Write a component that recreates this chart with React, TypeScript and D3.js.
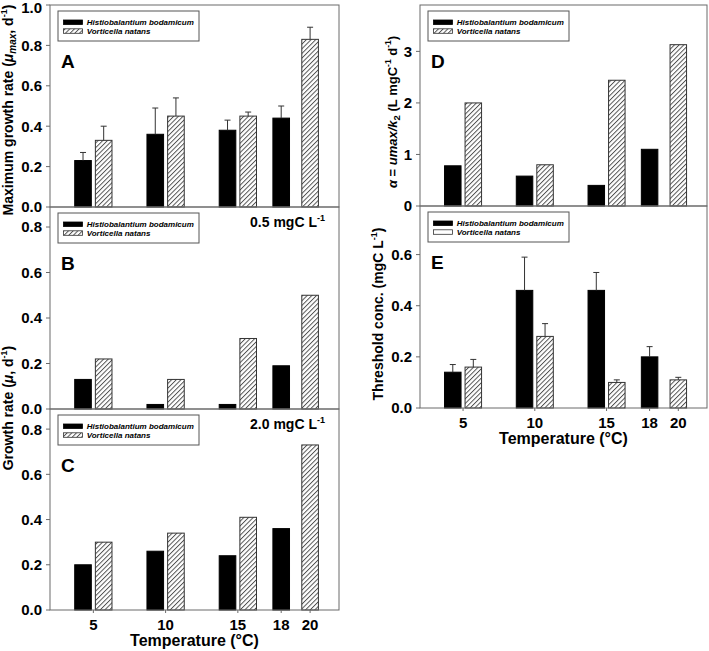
import React from "react";
import * as d3 from "d3";

const bodTemps = [5, 10, 15, 18];
const natTemps = [5, 10, 15, 20];
const xTicks = [5, 10, 15, 18, 20];
const seriesNames = ["Histiobalantium bodamicum", "Vorticella natans"];

const aBod = [0.23, 0.36, 0.38, 0.44];
const aBodSE = [0.04, 0.13, 0.05, 0.06];
const aNat = [0.33, 0.45, 0.45, 0.83];
const aNatSE = [0.07, 0.09, 0.02, 0.06];
const bBod = [0.13, 0.02, 0.02, 0.19];
const bNat = [0.22, 0.13, 0.31, 0.5];
const cBod = [0.2, 0.26, 0.24, 0.36];
const cNat = [0.3, 0.34, 0.41, 0.73];
const dBod = [0.78, 0.58, 0.4, 1.1];
const dNat = [2.0, 0.8, 2.44, 3.13];
const eBod = [0.14, 0.46, 0.46, 0.2];
const eBodSE = [0.03, 0.13, 0.07, 0.04];
const eNat = [0.16, 0.28, 0.1, 0.11];
const eNatSE = [0.03, 0.05, 0.01, 0.01];

const ticksA = [0, 0.2, 0.4, 0.6, 0.8, 1.0];
const ticksBC = [0, 0.2, 0.4, 0.6, 0.8];
const ticksD = [0, 1, 2, 3];
const ticksE = [0, 0.2, 0.4, 0.6];

const FONT = "'Liberation Sans', Arial, Helvetica, sans-serif";
const FRAME = "#6a6a6a";

type PanelProps = {
  left: number; right: number; top: number; bottom: number;
  yMax: number; yTicks: number[]; fmt: (v: number) => string;
  bod: number[]; nat: number[]; bodSE?: number[]; natSE?: number[];
  letter: string; plainNat?: boolean; showX?: boolean; conc?: string;
};

function Panel(p: PanelProps) {
  const x = d3.scaleLinear().domain([2, 22]).range([p.left, p.right]);
  const y = d3.scaleLinear().domain([0, p.yMax]).range([p.bottom, p.top]);
  const bw = 1.15, gap = 0.28;
  const span = (t: number, side: number, other: number[]) =>
    other.includes(t)
      ? side === 0 ? [t - gap / 2 - bw, t - gap / 2] : [t + gap / 2, t + gap / 2 + bw]
      : [t - bw / 2, t + bw / 2];

  const bars: any[] = [];
  const errs: any[] = [];
  const addSeries = (temps: number[], vals: number[], se: number[] | undefined, side: number, other: number[]) => {
    temps.forEach((t, i) => {
      const [a, b] = span(t, side, other);
      const x0 = x(a), x1 = x(b);
      bars.push(
        <rect key={`b${side}-${i}`} x={x0} y={y(vals[i])} width={x1 - x0} height={y(0) - y(vals[i])}
          fill={side === 0 ? "#000" : "url(#hatch)"} stroke={side === 0 ? "#000" : "#333"} strokeWidth={1} />
      );
      if (se) {
        const cx = (x0 + x1) / 2;
        const yt = y(vals[i] + se[i]);
        errs.push(
          <g key={`e${side}-${i}`} stroke="#333" strokeWidth={1}>
            <line x1={cx} x2={cx} y1={y(vals[i])} y2={yt} />
            <line x1={cx - 3} x2={cx + 3} y1={yt} y2={yt} />
          </g>
        );
      }
    });
  };
  addSeries(bodTemps, p.bod, p.bodSE, 0, natTemps);
  addSeries(natTemps, p.nat, p.natSE, 1, bodTemps);

  const lx = p.left + 8, ly = p.top + 6;
  return (
    <g>
      {bars}
      {errs}
      <rect x={p.left} y={p.top} width={p.right - p.left} height={p.bottom - p.top} fill="none" stroke={FRAME} strokeWidth={1} />
      {p.yTicks.map((t) => (
        <g key={`yt${t}`}>
          <line x1={p.left - 4} x2={p.left} y1={y(t)} y2={y(t)} stroke={FRAME} />
          <text x={p.left - 8} y={Math.max(y(t), 8)} dy="0.36em" textAnchor="end" fontSize={15} fontWeight="bold">{p.fmt(t)}</text>
        </g>
      ))}
      {p.showX && xTicks.map((t) => (
        <g key={`xt${t}`}>
          <line x1={x(t)} x2={x(t)} y1={p.bottom} y2={p.bottom + 3} stroke={FRAME} />
          <text x={x(t)} y={p.bottom + 20} textAnchor="middle" fontSize={15} fontWeight="bold">{t}</text>
        </g>
      ))}
      {p.showX && (
        <text x={(p.left + p.right) / 2} y={p.bottom + 36} textAnchor="middle" fontSize={16} fontWeight="bold">Temperature (°C)</text>
      )}
      <g>
        <rect x={lx} y={ly} width={141} height={30} fill="#fff" stroke="#555" strokeWidth={1} />
        <rect x={lx + 5.5} y={ly + 9} width={19} height={4.5} fill="#000" stroke="#000" strokeWidth={0.8} />
        <rect x={lx + 5.5} y={ly + 17.8} width={19} height={4.5} fill={p.plainNat ? "#fff" : "url(#hatchL)"} stroke="#333" strokeWidth={0.8} />
        <text x={lx + 28.7} y={ly + 11.3} dy="0.36em" fontSize={8} fontWeight="bold" fontStyle="italic">{seriesNames[0]}</text>
        <text x={lx + 28.7} y={ly + 20.1} dy="0.36em" fontSize={8} fontWeight="bold" fontStyle="italic">{seriesNames[1]}</text>
      </g>
      <text x={p.left + 11} y={p.top + 63} fontSize={19} fontWeight="bold">{p.letter}</text>
      {p.conc && (
        <text x={p.right - 14} y={p.top + 19.5} textAnchor="end" fontSize={14} fontWeight="bold">
          {p.conc} mgC L<tspan fontSize={9} dy={-6}>-1</tspan>
        </text>
      )}
    </g>
  );
}

export default function App() {
  const f1 = d3.format(".1f");
  const f0 = d3.format("d");
  return (
    <svg width={709} height={651} style={{ position: "absolute", left: 0, top: 0, background: "#fff" }}
      fontFamily={FONT}>
      <defs>
        <pattern id="hatch" patternUnits="userSpaceOnUse" width={3.3} height={3.3} patternTransform="rotate(45)">
          <rect width={3.3} height={3.3} fill="#fff" />
          <line x1={0.5} y1={0} x2={0.5} y2={3.3} stroke="#444" strokeWidth={0.9} />
        </pattern>
        <pattern id="hatchL" patternUnits="userSpaceOnUse" width={3.3} height={3.3} patternTransform="rotate(45)">
          <rect width={3.3} height={3.3} fill="#fff" />
          <line x1={0.5} y1={0} x2={0.5} y2={3.3} stroke="#444" strokeWidth={0.9} />
        </pattern>
      </defs>
      <rect width={709} height={651} fill="#fff" />

      <Panel left={50} right={339} top={5} bottom={207} yMax={1.0} yTicks={ticksA} fmt={f1}
        bod={aBod} nat={aNat} bodSE={aBodSE} natSE={aNatSE} letter="A" />
      <Panel left={50} right={339} top={207} bottom={409} yMax={0.888} yTicks={ticksBC} fmt={f1}
        bod={bBod} nat={bNat} letter="B" conc="0.5" />
      <Panel left={50} right={339} top={409} bottom={610} yMax={0.889} yTicks={ticksBC} fmt={f1}
        bod={cBod} nat={cNat} letter="C" conc="2.0" showX />
      <Panel left={420} right={707} top={5} bottom={206} yMax={3.9} yTicks={ticksD} fmt={f0}
        bod={dBod} nat={dNat} letter="D" />
      <Panel left={420} right={707} top={206} bottom={408} yMax={0.79} yTicks={ticksE} fmt={f1}
        bod={eBod} nat={eNat} bodSE={eBodSE} natSE={eNatSE} letter="E" plainNat showX />

      <text transform="translate(13,110) rotate(-90)" textAnchor="middle" fontSize={14} fontWeight="bold">
        Maximum growth rate (<tspan fontStyle="italic">μ</tspan><tspan fontStyle="italic" fontSize={10} dy={3}>max</tspan><tspan dy={-3}>, d</tspan><tspan fontSize={9} dy={-6}>-1</tspan><tspan dy={6}>)</tspan>
      </text>
      <text transform="translate(13,408) rotate(-90)" textAnchor="middle" fontSize={14} fontWeight="bold">
        Growth rate (<tspan fontStyle="italic">μ</tspan>, d<tspan fontSize={9} dy={-6}>-1</tspan><tspan dy={6}>)</tspan>
      </text>
      <text transform="translate(397,112) rotate(-90)" textAnchor="middle" fontSize={13} fontWeight="bold">
        <tspan fontStyle="italic">α</tspan> = <tspan fontStyle="italic">umax/k</tspan><tspan fontSize={9.5} dy={3}>2</tspan><tspan dy={-3}> (L mgC</tspan><tspan fontSize={8.5} dy={-6}>-1</tspan><tspan dy={6}> d</tspan><tspan fontSize={8.5} dy={-6}>-1</tspan><tspan dy={6}>)</tspan>
      </text>
      <text transform="translate(383,314) rotate(-90)" textAnchor="middle" fontSize={14} fontWeight="bold">
        Threshold conc. (mgC L<tspan fontSize={9} dy={-6}>-1</tspan><tspan dy={6}>)</tspan>
      </text>
    </svg>
  );
}
